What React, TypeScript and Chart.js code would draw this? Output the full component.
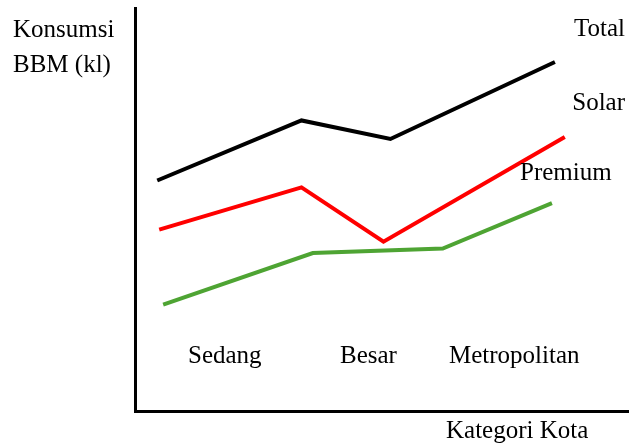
import React, { useEffect, useRef } from "react";
import { Chart, registerables } from "chart.js";

Chart.register(...registerables);

// Data (arbitrary units: x 0..100 across, y 0..100 up)
const seriesNames = ["Total", "Solar", "Premium"];
const seriesColors = ["#000000", "#ff0000", "#4ea433"];
const totalX = [4.5, 33.7, 51.7, 85.0];
const totalY = [57.2, 72.1, 67.5, 86.6];
const solarX = [4.9, 33.7, 50.3, 87.0];
const solarY = [45.0, 55.5, 42.0, 68.0];
const premiumX = [5.7, 36.0, 62.3, 84.4];
const premiumY = [26.4, 39.2, 40.3, 51.6];
const categories = ["Sedang", "Besar", "Metropolitan"];
const yTitleLines = ["Konsumsi", "BBM (kl)"];
const xTitle = "Kategori Kota";

const toPts = (xs: number[], ys: number[]) => xs.map((x, i) => ({ x, y: ys[i] }));

const FONT = '25px "Liberation Serif", serif';

const textPlugin = {
  id: "texts",
  afterDraw(chart: any) {
    const ctx = chart.ctx as CanvasRenderingContext2D;
    ctx.save();
    ctx.font = FONT;
    ctx.fillStyle = "#000";
    ctx.textBaseline = "alphabetic";
    // y-axis title (top-left)
    ctx.textAlign = "left";
    ctx.fillText(yTitleLines[0], 13, 37);
    ctx.fillText(yTitleLines[1], 13, 72);
    // x-axis title (bottom-right)
    ctx.fillText(xTitle, 446, 438);
    // category labels inside plot
    const catLeft = [188, 340, 449];
    categories.forEach((c, i) => ctx.fillText(c, catLeft[i], 363));
    // series labels
    ctx.textAlign = "right";
    ctx.fillText(seriesNames[0], 625, 36);
    ctx.fillText(seriesNames[1], 625, 110);
    ctx.textAlign = "left";
    ctx.fillText(seriesNames[2], 520, 180);
    ctx.restore();
  },
};

export default function App() {
  const ref = useRef<HTMLCanvasElement | null>(null);
  useEffect(() => {
    if (!ref.current) return;
    const mk = (i: number, xs: number[], ys: number[]) => ({
      label: seriesNames[i],
      data: toPts(xs, ys),
      borderColor: seriesColors[i],
      backgroundColor: seriesColors[i],
      borderWidth: 4,
      pointRadius: 0,
      tension: 0,
      fill: false,
      borderJoinStyle: "miter" as const,
      borderCapStyle: "butt" as const,
    });
    const chart = new Chart(ref.current, {
      type: "line",
      data: {
        datasets: [
          mk(0, totalX, totalY),
          mk(1, solarX, solarY),
          mk(2, premiumX, premiumY),
        ],
      },
      options: {
        responsive: false,
        animation: false,
        layout: { padding: { left: 135, top: 8, right: 0, bottom: 34 } },
        plugins: { legend: { display: false }, tooltip: { enabled: false } },
        scales: {
          x: {
            type: "linear",
            min: 0,
            max: 100,
            grid: { display: false, drawTicks: false, tickLength: 0 },
            ticks: { display: false },
            border: { display: true, color: "#000", width: 3 },
          },
          y: {
            type: "linear",
            min: 0,
            max: 100,
            grid: { display: false, drawTicks: false, tickLength: 0 },
            ticks: { display: false },
            border: { display: true, color: "#000", width: 3 },
          },
        },
      },
      plugins: [textPlugin],
    });
    return () => chart.destroy();
  }, []);
  return (
    <div style={{ position: "absolute", left: 0, top: 0, width: 629, height: 445, background: "#fff" }}>
      <canvas ref={ref} width={629} height={445} style={{ display: "block" }} />
    </div>
  );
}
